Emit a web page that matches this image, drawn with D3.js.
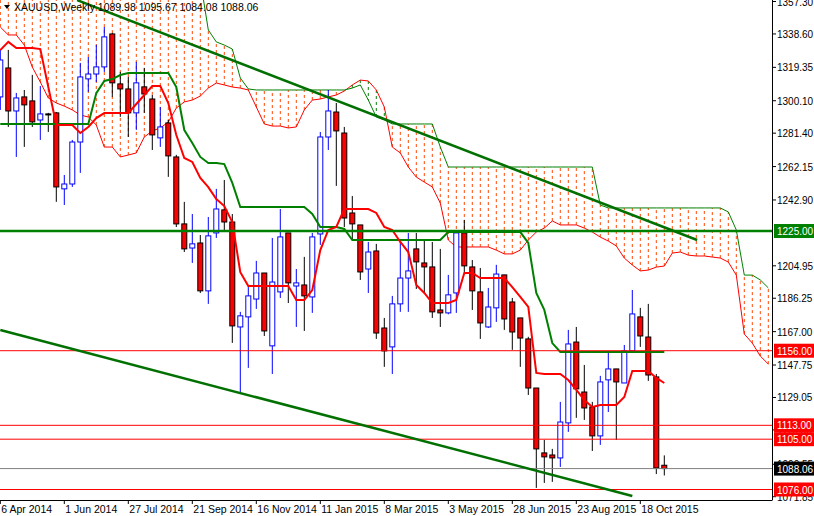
<!DOCTYPE html>
<html>
<head>
<meta charset="utf-8">
<script src="https://cdn.jsdelivr.net/npm/d3@7"></script>
<style>
  body { margin: 0; background: #fff; }
  svg { display: block; font-family: "Liberation Sans", Arial, sans-serif; }
</style>
</head>
<body>
<div id="chart"></div>
<script>
// Weekly candles, bar 0 = week of 6 Apr 2014
const opens  = [1302.3,1319.0,1294.2,1302.3,1300.0,1289.0,1292.5,1293.1,1249.3,1252.1,1276.3,1312.7,1315.5,1319.6,1338.6,1309.8,1306.9,1293.1,1308.1,1301.1,1278.7,1287.3,1267.7,1229.1,1215.2,1218.1,1190.5,1223.9,1237.2,1230.2,1169.7,1175.5,1185.8,1200.8,1158.8,1189.9,1223.9,1193.3,1193.9,1187.0,1223.3,1279.2,1293.6,1281.5,1235.4,1228.5,1203.1,1213.5,1169.1,1158.2,1183.0,1197.9,1214.7,1206.6,1204.3,1179.5,1177.8,1189.3,1223.9,1204.3,1189.9,1169.7,1180.7,1199.7,1184.1,1174.9,1162.8,1134.5,1097.1,1095.9,1094.2,1114.4,1161.0,1132.2,1123.6,1106.9,1139.2,1145.5,1137.4,1155.9,1175.5,1163.9,1140.9,1089.98];
const highs  = [1329.4,1329.4,1304.6,1306.3,1315.0,1308.6,1293.1,1293.6,1257.3,1277.5,1321.9,1325.3,1332.3,1342.6,1339.2,1316.7,1313.8,1322.5,1319.0,1303.4,1296.5,1289.0,1268.9,1241.8,1234.8,1222.7,1233.1,1249.3,1254.4,1234.8,1178.4,1192.8,1207.8,1200.8,1221.0,1237.7,1223.9,1203.1,1210.1,1223.9,1282.1,1306.3,1298.8,1285.0,1245.2,1228.5,1218.7,1217.6,1174.9,1187.6,1219.9,1223.9,1223.9,1219.9,1218.7,1214.7,1199.7,1224.5,1231.4,1208.3,1203.7,1192.2,1205.5,1199.7,1186.4,1174.9,1164.0,1134.5,1104.6,1099.4,1126.5,1168.0,1169.7,1147.8,1126.5,1141.5,1155.9,1145.5,1159.3,1191.0,1180.7,1183.0,1142.6,1095.67];
const lows   = [1294.8,1285.0,1267.7,1273.5,1285.0,1277.5,1282.1,1241.8,1240.0,1250.4,1258.5,1305.2,1310.9,1316.7,1302.3,1290.8,1279.2,1283.3,1293.1,1271.7,1273.5,1256.2,1227.3,1212.9,1206.6,1189.3,1183.0,1221.0,1225.6,1160.5,1131.7,1146.1,1180.1,1164.5,1142.6,1186.4,1183.5,1169.7,1167.4,1177.8,1217.0,1271.7,1251.0,1227.3,1219.9,1196.8,1189.3,1162.8,1146.7,1142.6,1178.4,1178.4,1191.6,1189.3,1174.9,1169.7,1177.0,1177.8,1201.4,1179.5,1162.8,1169.1,1172.6,1168.0,1156.5,1146.7,1130.5,1076.9,1079.8,1080.4,1089.0,1109.2,1117.3,1116.1,1098.2,1101.7,1120.7,1104.6,1137.4,1154.7,1158.2,1138.6,1084.9,1084.08];
const closes = [1323.6,1294.2,1301.7,1297.7,1287.9,1292.5,1292.0,1250.4,1252.1,1276.3,1313.8,1315.5,1319.6,1336.9,1310.4,1306.9,1293.1,1310.4,1304.0,1280.4,1285.0,1268.3,1229.1,1214.7,1217.6,1190.5,1222.2,1237.7,1230.2,1170.3,1176.1,1187.6,1200.8,1167.4,1195.6,1221.6,1195.1,1195.1,1187.6,1221.6,1279.2,1294.2,1282.7,1232.5,1229.1,1201.4,1212.9,1166.2,1155.9,1183.0,1197.9,1202.0,1207.2,1204.3,1178.4,1177.8,1188.2,1223.9,1204.9,1190.5,1172.0,1181.2,1200.2,1174.3,1166.8,1163.3,1134.5,1099.4,1094.8,1094.2,1114.9,1159.9,1134.0,1123.0,1106.9,1138.0,1145.5,1138.0,1155.9,1177.2,1164.5,1142.0,1088.4,1088.06];

// Ichimoku lines
const tenkan = [1329.3,1334.0,1330.5,1330.5,1330.5,1329.9,1308.0,1286.1,1286.1,1286.1,1281.5,1285.0,1290.1,1293.0,1293.0,1293.0,1293.0,1298.2,1303.4,1308.6,1308.6,1298.8,1280.3,1267.1,1264.8,1255.6,1250.3,1243.4,1239.4,1230.2,1201.3,1193.3,1193.3,1193.3,1193.3,1193.3,1193.3,1185.2,1185.2,1191.0,1214.0,1225.6,1227.3,1237.7,1237.7,1237.7,1237.7,1235.4,1227.3,1225.6,1218.7,1212.9,1193.9,1189.3,1183.5,1183.5,1183.5,1185.2,1200.8,1200.8,1197.9,1197.9,1197.9,1197.9,1192.7,1187.0,1181.2,1143.2,1142.6,1142.6,1142.6,1139.1,1133.4,1127.6,1123.6,1124.7,1124.7,1124.7,1129.3,1144.3,1144.3,1144.3,1140.3,1137.4];
const kijun = [1286.7,1286.7,1286.7,1286.7,1286.7,1286.7,1286.7,1286.7,1286.7,1286.7,1286.7,1286.7,1304.5,1311.5,1312.6,1314.9,1316.1,1316.1,1316.1,1316.1,1316.1,1316.1,1308.0,1283.2,1275.7,1267.7,1264.2,1264.2,1263.6,1252.7,1238.8,1238.8,1238.8,1238.8,1238.8,1238.8,1238.8,1238.8,1238.8,1234.8,1227.3,1227.3,1227.3,1226.2,1219.8,1219.8,1219.8,1219.8,1219.8,1219.8,1219.8,1219.8,1219.8,1219.8,1219.8,1219.8,1224.4,1224.4,1224.4,1224.4,1224.4,1224.4,1224.4,1224.4,1224.4,1224.4,1218.1,1189.3,1179.5,1160.4,1155.3,1155.3,1155.3,1155.3,1155.3,1155.3,1155.3,1155.3,1155.3,1155.3,1155.3,1155.3,1155.3,1155.3];
const spanA = [1342.6,1338.0,1338.0,1332.2,1319.5,1310.9,1301.7,1298.8,1297.0,1294.8,1291.9,1290.7,1286.1,1273.4,1273.4,1267.7,1268.8,1270.0,1279.2,1282.7,1284.4,1287.8,1295.9,1299.4,1300.5,1302.8,1307.4,1310.3,1309.2,1308.0,1307.4,1306.3,1296.5,1286.7,1285.5,1285.5,1284.4,1285.0,1294.8,1300.5,1301.1,1302.3,1303.4,1305.7,1309.2,1312.0,1311.5,1306.3,1296.5,1273.4,1270.0,1261.9,1256.1,1253.2,1250.4,1241.1,1219.8,1215.8,1215.8,1215.8,1215.8,1215.8,1214.0,1211.8,1211.8,1214.0,1219.8,1224.4,1226.7,1230.8,1228.5,1228.5,1228.5,1226.7,1224.4,1221.5,1219.2,1216.4,1209.4,1205.4,1202.0,1202.5,1204.2,1204.8,1212.3,1212.9,1211.1,1210.6,1210.6,1210.0,1209.4,1207.1,1199.6,1165.6,1160.4,1152.9,1148.3];
const spanB = [1369.7,1369.7,1369.7,1369.7,1369.7,1369.7,1369.7,1369.7,1369.7,1369.7,1369.7,1369.7,1369.7,1369.7,1369.7,1369.7,1369.7,1369.7,1369.7,1369.7,1369.7,1369.7,1369.7,1369.7,1369.7,1369.7,1340.9,1334.0,1332.2,1329.9,1313.2,1306.9,1306.3,1306.3,1306.3,1306.3,1306.3,1306.3,1306.3,1306.3,1306.3,1306.3,1306.3,1306.3,1307.4,1309.2,1300.5,1290.7,1289.0,1286.7,1286.7,1286.7,1286.7,1286.7,1286.7,1273.4,1261.9,1261.9,1261.9,1261.9,1261.9,1261.9,1261.9,1261.9,1261.9,1261.9,1261.9,1261.9,1261.9,1261.9,1261.9,1261.9,1261.9,1261.9,1261.9,1240.0,1238.3,1238.3,1238.3,1238.3,1238.3,1238.3,1238.3,1238.3,1238.3,1238.3,1238.3,1238.3,1238.3,1238.3,1238.3,1236.0,1225.6,1199.6,1199.6,1196.8,1192.2];

// Price axis ticks and marked levels
const priceTicks = [1357.30,1338.60,1319.35,1300.10,1281.40,1262.15,1242.90,1204.95,1186.25,1167.00,1147.75,1129.05,1110.35,1090.55,1071.85];
const redLevels = [1156.00,1113.00,1105.00,1076.00];
const greenLevel = 1225.00;
const lastPrice = 1088.06;
// Trend lines as [bar, price] pairs
const upperTrend = [[9.6,1358.1],[87.1,1219.8]];
const lowerTrend = [[0,1167.9],[79,1072.3]];
// Date labels every 8 bars
const dateBars = [0,8,16,24,32,40,48,56,64,72,80];
const dateLabels = ['6 Apr 2014','1 Jun 2014','27 Jul 2014','21 Sep 2014','16 Nov 2014','11 Jan 2015','8 Mar 2015','3 May 2015','28 Jun 2015','23 Aug 2015','18 Oct 2015'];

const W = 814, H = 516, plotR = 772, plotB = 500;
const FS = '10.5px', AFS = '10px';
const svg = d3.select('#chart').append('svg').attr('width', W).attr('height', H);

const x = d3.scaleLinear().domain([0, 83]).range([0.3, 664.3]);
const y = d3.scaleLinear().domain([1071.85, 1357.30]).range([496.7, 1.5]);

svg.append('clipPath').attr('id', 'clip').append('rect')
  .attr('x', 0).attr('y', 0).attr('width', plotR).attr('height', plotB);
const g = svg.append('g').attr('clip-path', 'url(#clip)');

// Cloud hatching
g.selectAll('line.hatch').data(spanA).enter().append('line')
  .attr('x1', (d, i) => x(i)).attr('x2', (d, i) => x(i))
  .attr('y1', d => y(d)).attr('y2', (d, i) => y(spanB[i]))
  .attr('stroke', (d, i) => spanB[i] >= d ? '#ff4500' : '#008000')
  .attr('stroke-width', 1).attr('stroke-dasharray', '3,3');

const line = d3.line().x((d, i) => x(i)).y(d => y(d));
g.append('path').datum(spanA).attr('d', line).attr('fill', 'none').attr('stroke', '#ff0000').attr('stroke-width', 1);
g.append('path').datum(spanB).attr('d', line).attr('fill', 'none').attr('stroke', '#008000').attr('stroke-width', 1);

// Candles
const bars = d3.range(opens.length);
g.selectAll('line.wick').data(bars).enter().append('line')
  .attr('x1', i => x(i)).attr('x2', i => x(i))
  .attr('y1', i => y(highs[i])).attr('y2', i => y(lows[i]))
  .attr('stroke', i => closes[i] >= opens[i] ? '#0000ff' : '#000000').attr('stroke-width', 1);
g.selectAll('rect.body').data(bars).enter().append('rect')
  .attr('x', i => x(i) - 2.5).attr('width', 5)
  .attr('y', i => y(Math.max(opens[i], closes[i])))
  .attr('height', i => Math.max(1, Math.abs(y(opens[i]) - y(closes[i]))))
  .attr('fill', i => closes[i] >= opens[i] ? '#ffffff' : '#ff0000')
  .attr('stroke', i => closes[i] >= opens[i] ? '#0000ff' : '#000000').attr('stroke-width', 1);

// Tenkan / Kijun
g.append('path').datum(kijun).attr('d', line).attr('fill', 'none').attr('stroke', '#008000').attr('stroke-width', 2);
g.append('path').datum(tenkan).attr('d', line).attr('fill', 'none').attr('stroke', '#ff0000').attr('stroke-width', 2);

// Horizontal levels
g.selectAll('line.red').data(redLevels).enter().append('line')
  .attr('x1', 0).attr('x2', plotR).attr('y1', d => y(d)).attr('y2', d => y(d))
  .attr('stroke', '#ff0000').attr('stroke-width', 1);
g.append('line').attr('x1', 0).attr('x2', plotR).attr('y1', y(lastPrice)).attr('y2', y(lastPrice))
  .attr('stroke', '#808080').attr('stroke-width', 1);
g.append('line').attr('x1', 0).attr('x2', plotR).attr('y1', y(greenLevel)).attr('y2', y(greenLevel))
  .attr('stroke', '#008000').attr('stroke-width', 2.5);

// Trend lines
[upperTrend, lowerTrend].forEach(t => {
  g.append('line')
    .attr('x1', x(t[0][0])).attr('y1', y(t[0][1]))
    .attr('x2', x(t[1][0])).attr('y2', y(t[1][1]))
    .attr('stroke', '#007000').attr('stroke-width', 2.5);
});

// Axes frame
svg.append('line').attr('x1', plotR + 0.5).attr('x2', plotR + 0.5).attr('y1', 0).attr('y2', plotB)
  .attr('stroke', '#000');
svg.append('line').attr('x1', 0).attr('x2', plotR + 0.5).attr('y1', plotB + 0.5).attr('y2', plotB + 0.5)
  .attr('stroke', '#000');

// Price labels
priceTicks.forEach(p => {
  const yy = y(p);
  svg.append('line').attr('x1', plotR).attr('x2', plotR + 4).attr('y1', yy).attr('y2', yy).attr('stroke', '#000');
  svg.append('text').attr('x', plotR + 5).attr('y', yy + 4).text(p.toFixed(2))
    .style('font-size', AFS).style('fill', '#000');
});

function tag(p, bg) {
  const yy = y(p);
  svg.append('rect').attr('x', plotR + 2).attr('y', yy - 7).attr('width', W - plotR - 2).attr('height', 14).attr('fill', bg);
  svg.append('text').attr('x', plotR + 5).attr('y', yy + 4).text(p.toFixed(2))
    .style('font-size', AFS).style('fill', '#fff');
}
tag(greenLevel, '#008000');
redLevels.forEach(p => tag(p, '#ff0000'));
tag(lastPrice, '#000000');

// Date labels
dateBars.forEach((b, k) => {
  const xx = x(b);
  svg.append('line').attr('x1', xx).attr('x2', xx).attr('y1', plotB).attr('y2', plotB + 4).attr('stroke', '#000');
  svg.append('text').attr('x', Math.max(0, xx + 1)).attr('y', plotB + 13).text(dateLabels[k])
    .style('font-size', FS).style('fill', '#000');
});

// Header
svg.append('path').attr('d', 'M4,5 L10,5 L7,9 Z').attr('fill', '#000');
svg.append('text').attr('x', 14).attr('y', 11).text('XAUUSD,Weekly  1089.98 1095.67 1084.08 1088.06')
  .style('font-size', FS).style('fill', '#000');
</script>
</body>
</html>
